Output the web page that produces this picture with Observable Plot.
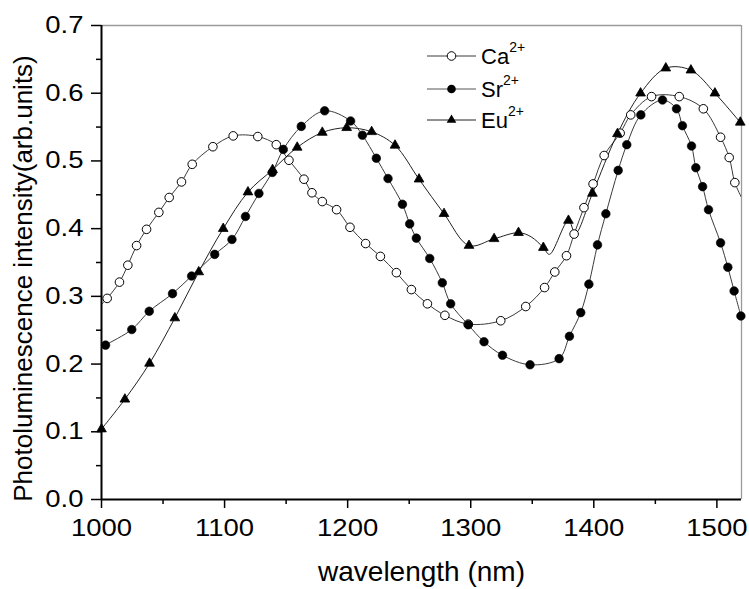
<!DOCTYPE html>
<html><head><meta charset="utf-8">
<script src="https://cdn.jsdelivr.net/npm/d3@7"></script>
<script src="https://cdn.jsdelivr.net/npm/@observablehq/plot@0.6"></script>
<style>body{margin:0;background:#fff}#chart{width:749px;height:589px}</style>
</head><body><div id="chart"></div>
<script>
// ---------- data ----------
const caMarkWl = [1004.6,1014.6,1021.4,1028.5,1036.6,1046.6,1055,1065,1073.7,1090.5,1107,1127,1142,1152.3,1164.5,1171,1179.4,1191,1201.9,1214.6,1226.6,1239.6,1251.8,1264.8,1279,1298,1324.4,1344.7,1360,1368.3,1377.8,1384,1392,1399.4,1408.4,1421.4,1430,1446.9,1469.4,1489,1503,1510,1514.6];
const caMarkVal = [0.297,0.321,0.346,0.375,0.399,0.424,0.446,0.469,0.495,0.521,0.537,0.536,0.524,0.501,0.473,0.453,0.440,0.428,0.402,0.378,0.359,0.335,0.310,0.289,0.272,0.259,0.264,0.285,0.313,0.336,0.360,0.392,0.431,0.466,0.508,0.541,0.568,0.595,0.595,0.577,0.535,0.505,0.468];
const caLineExtraWl = [1000,1520];
const caLineExtraVal = [0.288,0.446];

const srMarkWl = [1003.3,1024.6,1038.8,1057.7,1073.2,1092,1106,1117,1127.9,1138.8,1147.7,1162.3,1181.3,1202.4,1212,1223.3,1232.8,1244.5,1250.4,1255.8,1266.7,1276.9,1283.7,1298,1310.8,1325.8,1348.2,1371.8,1380.2,1389.4,1396,1403,1409.8,1419.8,1426.8,1438.2,1455.8,1467.2,1472,1479.4,1482.9,1488.4,1493.2,1503,1508.9,1514,1519.5];
const srMarkVal = [0.228,0.251,0.278,0.304,0.330,0.362,0.384,0.418,0.452,0.483,0.517,0.551,0.574,0.559,0.538,0.504,0.474,0.436,0.407,0.386,0.356,0.320,0.289,0.258,0.233,0.213,0.199,0.208,0.241,0.276,0.318,0.376,0.422,0.486,0.524,0.568,0.590,0.577,0.552,0.522,0.490,0.462,0.428,0.379,0.343,0.308,0.271];
const srLineExtraWl = [1000];
const srLineExtraVal = [0.224];

const euMarkWl = [1000,1019,1039,1059.6,1079,1098.9,1119,1139,1159,1179.4,1199.2,1219.5,1238.5,1258,1278.3,1298.6,1319,1338.8,1359,1379.4,1398.9,1419.2,1438,1458.5,1478.9,1498.4,1519];
const euMarkVal = [0.104,0.148,0.201,0.268,0.336,0.400,0.454,0.487,0.520,0.542,0.549,0.543,0.523,0.473,0.422,0.375,0.385,0.394,0.372,0.412,0.452,0.540,0.600,0.637,0.634,0.600,0.557];
const euLineExtraWl = [1349,1364,1385,1520];
const euLineExtraVal = [0.388,0.362,0.393,0.555];

const seriesNames = ["Ca", "Sr", "Eu"];
const seriesCharge = "2+";

const xMajorTicks = [1000,1100,1200,1300,1400,1500];
const xMinorTicks = [1050,1150,1250,1350,1450];
const yMajorTicks = [0,0.1,0.2,0.3,0.4,0.5,0.6,0.7];
const yMinorTicks = [0.05,0.15,0.25,0.35,0.45,0.55,0.65];

const xTitle = "wavelength (nm)";
const yTitle = "Photoluminescence intensity(arb.units)";

// ---------- build ----------
const FONT = "'Liberation Sans', Arial, Helvetica, sans-serif";
const rows = (wl, val) => wl.map((w, i) => ({wl: w, v: val[i]}));
const lineRows = (mw, mv, ew, ev) => rows(mw.concat(ew), mv.concat(ev)).sort((a, b) => a.wl - b.wl);

const caMarks = rows(caMarkWl, caMarkVal);
const srMarks = rows(srMarkWl, srMarkVal);
const euMarks = rows(euMarkWl, euMarkVal);
const caLine = lineRows(caMarkWl, caMarkVal, caLineExtraWl, caLineExtraVal);
const srLine = lineRows(srMarkWl, srMarkVal, srLineExtraWl, srLineExtraVal);
const euLine = lineRows(euMarkWl, euMarkVal, euLineExtraWl, euLineExtraVal);

const R_CIRCLE = 4.3, R_TRI = 3.6;
const lineOpts = {x: "wl", y: "v", curve: "catmull-rom", strokeWidth: 1, clip: true};

const plot = Plot.plot({
  width: 749, height: 589,
  marginLeft: 101, marginRight: 8, marginTop: 25, marginBottom: 90,
  style: {fontFamily: FONT, background: "white", color: "black", overflow: "visible"},
  x: {domain: [1000, 1520]},
  y: {domain: [0, 0.7]},
  marks: [
    Plot.ruleY([0.7], {stroke: "#9a9a9a", strokeWidth: 1.3}),
    Plot.ruleX([1520], {stroke: "#9a9a9a", strokeWidth: 1.3}),
    Plot.line(caLine, {...lineOpts, stroke: "#3a3a3a"}),
    Plot.line(euLine, {...lineOpts, stroke: "#222"}),
    Plot.line(srLine, {...lineOpts, stroke: "#3a3a3a"}),
    Plot.dot(caMarks, {x: "wl", y: "v", r: R_CIRCLE, fill: "white", stroke: "black", strokeWidth: 1}),
    Plot.dot(euMarks, {x: "wl", y: "v", symbol: "triangle", r: R_TRI, fill: "black", stroke: "black", strokeWidth: 0.8}),
    Plot.dot(srMarks, {x: "wl", y: "v", r: R_CIRCLE, fill: "black", stroke: "black", strokeWidth: 0.6}),
    Plot.axisX({ticks: xMinorTicks, tickSize: 5, tickFormat: () => "", label: null, strokeWidth: 1.5}),
    Plot.axisX({ticks: xMajorTicks, tickSize: 9, tickPadding: 11, tickFormat: d3.format("d"), fontSize: 23.5, label: null, strokeWidth: 1.5}),
    Plot.axisY({ticks: yMinorTicks, tickSize: 5, tickFormat: () => "", label: null, strokeWidth: 1.5}),
    Plot.axisY({ticks: yMajorTicks, tickSize: 10, tickPadding: 8, tickFormat: d3.format(".1f"), fontSize: 23.5, label: null, strokeWidth: 1.5}),
    Plot.ruleX([1000], {stroke: "black", strokeWidth: 2}),
    Plot.ruleY([0], {stroke: "black", strokeWidth: 2}),
    Plot.text([xTitle], {frameAnchor: "bottom", textAnchor: "middle", lineAnchor: "middle", dy: 73, fontSize: 28, fill: "black"}),
    Plot.text([yTitle], {frameAnchor: "left", textAnchor: "middle", lineAnchor: "middle", rotate: -90, dx: -77.6, dy: 16, fontSize: 26, fill: "black"})
  ]
});

// widen tick labels like the reference's font
d3.select(plot).selectAll('[aria-label$="tick label"] text').each(function () {
  const t = this.getAttribute("transform");
  if (t) this.setAttribute("transform", t + " scale(1.17,1)");
});

// legend (inside the frame, top centre)
const LEG = {x0: 427, x1: 476, xm: 451.5, xt: 481, rows: [56, 89, 120]};
const svg = d3.select(plot);
const lg = svg.append("g").attr("font-family", FONT).attr("fill", "black").attr("text-anchor", "start");
const legendSymbols = [
  g => g.append("circle").attr("r", R_CIRCLE).attr("fill", "white").attr("stroke", "black"),
  g => g.append("circle").attr("r", R_CIRCLE).attr("fill", "black"),
  g => g.append("path").attr("d", d3.symbol(d3.symbolTriangle, Math.PI * R_TRI * R_TRI)()).attr("fill", "black")
];
const legendStroke = ["#3a3a3a", "#555", "#222"];
seriesNames.forEach((name, i) => {
  const y = LEG.rows[i];
  lg.append("line").attr("x1", LEG.x0).attr("x2", LEG.x1).attr("y1", y).attr("y2", y)
    .attr("stroke", legendStroke[i]).attr("stroke-width", 1);
  legendSymbols[i](lg.append("g").attr("transform", `translate(${LEG.xm},${y})`));
  const t = lg.append("text").attr("x", LEG.xt).attr("y", y).attr("dy", "0.36em").attr("font-size", 22).attr("text-anchor", "start");
  t.append("tspan").text(name);
  t.append("tspan").attr("font-size", 14).attr("dy", "-0.85em").text(seriesCharge);
});

document.getElementById("chart").appendChild(plot);
</script>
</body></html>
